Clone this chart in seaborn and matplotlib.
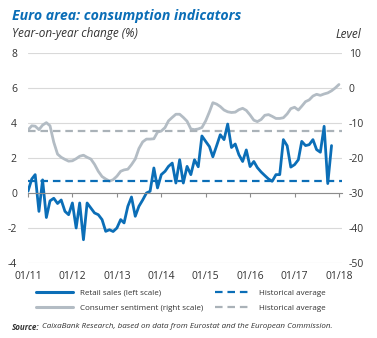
import matplotlib
matplotlib.use("Agg")
import matplotlib.pyplot as plt
from matplotlib.lines import Line2D
import pandas as pd
import seaborn as sns

# Retail sales, year-on-year change (%), monthly from Jan 2011
retail_sales = [
    0.1, 0.8, 1.05, -1.05, 0.75, -1.4, -0.45, -0.3, -0.6, -0.4, -1.05, -1.24,
    -0.57, -2.0, -0.57, -2.67, -0.57, -0.86, -1.14, -1.24, -1.52, -2.19, -2.1, -2.2,
    -2.0, -1.52, -1.71, -0.76, -0.23, -1.33, -0.76, -0.4, 0.0, 0.1, 1.43, 0.29,
    1.05, 1.24, 1.52, 1.71, 0.57, 1.9, 0.57, 1.52, 1.05, 1.9, 1.5, 3.26,
    2.95, 2.65, 2.07, 2.7, 3.33, 3.05, 3.94, 2.6, 2.8, 2.19, 1.8, 2.46,
    1.51, 1.8, 1.45, 1.2, 1.0, 0.8, 0.67, 1.05, 1.05, 3.05, 2.7, 1.48,
    1.62, 1.9, 2.95, 2.71, 2.76, 3.05, 2.48, 2.33, 3.81, 0.54, 2.71,
]

# Consumer sentiment (level), monthly from Jan 2011
consumer_sentiment = [
    -12.0, -10.8, -10.9, -11.9, -10.6, -9.9, -10.8, -15.5, -18.9, -19.8, -20.4, -20.9,
    -20.8, -20.2, -19.5, -19.2, -19.8, -20.3, -21.8, -23.8, -25.3, -26.0, -26.6, -26.2,
    -25.2, -23.8, -23.4, -23.2, -21.9, -20.3, -17.3, -15.4, -14.6, -14.6, -14.5, -12.6,
    -12.3, -11.3, -9.4, -8.4, -7.5, -7.5, -8.4, -9.5, -11.7, -11.9, -11.7, -11.3,
    -9.4, -6.8, -4.2, -4.6, -5.3, -6.3, -6.8, -7.0, -6.9, -6.2, -5.8, -6.4,
    -7.7, -9.2, -9.6, -9.0, -7.8, -7.6, -8.1, -8.7, -8.7, -8.5, -7.4, -5.9,
    -5.5, -6.3, -5.2, -3.9, -3.4, -2.3, -1.8, -2.1, -1.7, -1.4, -0.8, 0.0,
    1.0,
]

retail_hist_avg = 0.7
sentiment_hist_avg = -12.2

left_ticks = [-4, -2, 0, 2, 4, 6, 8]
right_ticks = [-50, -40, -30, -20, -10, 0, 10]
year_ticks = ["2011-01-01", "2012-01-01", "2013-01-01", "2014-01-01",
              "2015-01-01", "2016-01-01", "2017-01-01", "2018-01-01"]
year_labels = ["01/11", "01/12", "01/13", "01/14", "01/15", "01/16", "01/17", "01/18"]

BLUE = "#0b6eb7"
GREY = "#b3bcc4"
GREY_DASH = "#aab2b8"
GRID = "#d9d9d9"
TEXT = "#333333"
DASHES = (3.4, 2.2)

sns.set_theme(style="white")
plt.rcParams["font.family"] = ["Open Sans", "DejaVu Sans"]
plt.rcParams["axes.unicode_minus"] = False

retail_df = pd.DataFrame({
    "date": pd.date_range("2011-01-01", periods=len(retail_sales), freq="MS"),
    "value": retail_sales,
})
sentiment_df = pd.DataFrame({
    "date": pd.date_range("2011-01-01", periods=len(consumer_sentiment), freq="MS"),
    "value": consumer_sentiment,
})

fig = plt.figure(figsize=(3.77, 3.38), dpi=100)
ax = fig.add_axes([28 / 377, 1 - 263 / 338, 314 / 377, 210 / 338])
ax2 = ax.twinx()

# right axis (sentiment) sits underneath and carries the grid
ax.set_zorder(ax2.get_zorder() + 1)
ax.patch.set_visible(False)

ax.set_ylim(-4, 8)
ax2.set_ylim(-50, 10)
ax.set_xlim(pd.Timestamp("2011-01-01"), pd.Timestamp("2018-01-26"))

ax2.set_yticks(right_ticks)
ax2.yaxis.grid(True, color=GRID, linewidth=0.8)
ax2.set_axisbelow(True)

sns.lineplot(data=sentiment_df, x="date", y="value", ax=ax2, color=GREY,
             linewidth=2.0, legend=False)
ax2.axhline(sentiment_hist_avg, color=GREY_DASH, linewidth=1.6, dashes=DASHES)

sns.lineplot(data=retail_df, x="date", y="value", ax=ax, color=BLUE,
             linewidth=2.0, legend=False)
ax.axhline(retail_hist_avg, color=BLUE, linewidth=1.6, dashes=DASHES)

for a in (ax, ax2):
    for s in a.spines.values():
        s.set_visible(False)
    a.set_xlabel("")
    a.set_ylabel("")

# zero line with year tick marks
ax.spines["bottom"].set_visible(True)
ax.spines["bottom"].set_position(("data", 0))
ax.spines["bottom"].set_color("#8c8c8c")
ax.spines["bottom"].set_linewidth(0.8)
ticks = pd.to_datetime(year_ticks)
ax.set_xticks(ticks)
ax.tick_params(axis="x", bottom=True, direction="out", length=3, width=0.8,
               color="#8c8c8c", labelbottom=False)
ax2.tick_params(axis="x", bottom=False, labelbottom=False)

sec = ax.secondary_xaxis("bottom")
sec.set_xticks(ticks, labels=year_labels)
sec.tick_params(length=0, pad=6, labelsize=7.5, labelcolor=TEXT)
for s in sec.spines.values():
    s.set_visible(False)

ax.set_yticks(left_ticks)
ax.tick_params(axis="y", left=False, length=0, pad=8, labelsize=7.5, labelcolor=TEXT)
ax2.tick_params(axis="y", right=False, length=0, pad=5, labelsize=7.5, labelcolor=TEXT)

fig.text(12 / 377, 1 - 16 / 338, "Euro area: consumption indicators",
         fontsize=10.2, fontweight="bold", fontstyle="italic", color=BLUE, va="center")
fig.text(12 / 377, 1 - 34 / 338, "Year-on-year change (%)",
         fontsize=8.5, fontstyle="italic", color=TEXT, va="center")
fig.text(361 / 377, 1 - 34 / 338, "Level",
         fontsize=8.5, fontstyle="italic", color=TEXT, va="center", ha="right")

# legend
handles = [
    Line2D([], [], color=BLUE, linewidth=2.2),
    Line2D([], [], color=GREY, linewidth=2.2),
    Line2D([], [], color=BLUE, linewidth=1.6, dashes=DASHES),
    Line2D([], [], color=GREY_DASH, linewidth=1.6, dashes=DASHES),
]
labels = ["Retail sales (left scale)", "Consumer sentiment (right scale)",
          "Historical average", "Historical average"]
fig.legend(handles, labels, ncol=2, loc="center left",
           bbox_to_anchor=(29 / 377, 1 - 300.5 / 338), frameon=False,
           fontsize=5.8, handlelength=4.6, handletextpad=0.87,
           columnspacing=1.4, labelspacing=0.95, labelcolor=TEXT)

src = fig.text(12 / 377, 1 - 327 / 338, "Source:", fontsize=5.8, fontstyle="italic",
               fontweight="bold", color=TEXT, va="center")
ax.annotate("CaixaBank Research, based on data from Eurostat and the European Commission.",
            xy=(1, 0.5), xycoords=src, xytext=(2, 0), textcoords="offset points",
            fontsize=5.8, fontstyle="italic", color=TEXT, va="center",
            annotation_clip=False)

fig.savefig("out.png", dpi=100)
